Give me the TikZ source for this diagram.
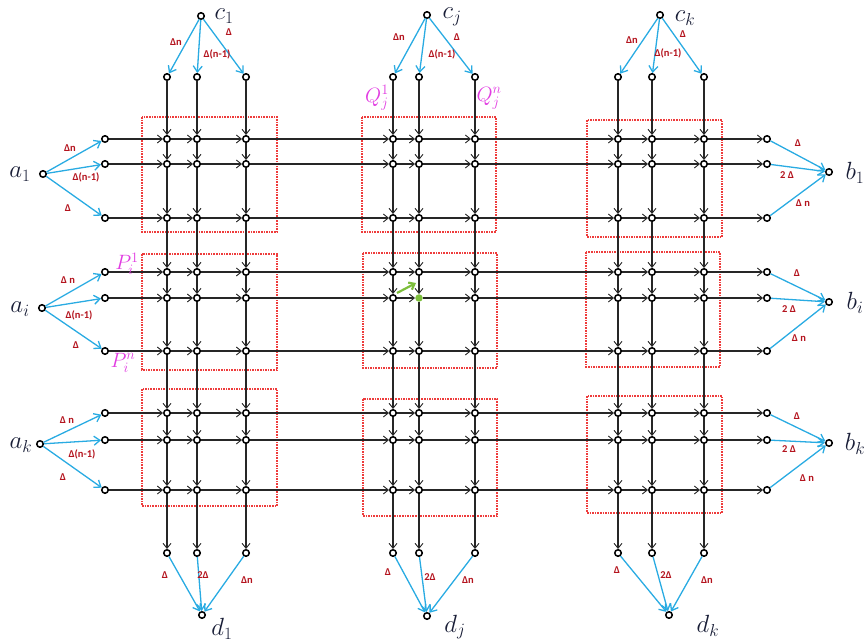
\documentclass[tikz,border=0pt]{standalone}
\usepackage{fontspec}
\newfontfamily\lblfont{Carlito}
\usetikzlibrary{arrows.meta}
\definecolor{dred}{RGB}{180,20,30}
\definecolor{skyb}{RGB}{41,171,226}
\definecolor{mag}{RGB}{225,60,225}
\definecolor{navy}{RGB}{25,30,55}
\definecolor{boxred}{RGB}{238,60,60}
\definecolor{grn}{RGB}{125,190,60}
\begin{document}
\begin{tikzpicture}[x=1pt,y=-1pt,
  pt/.style={circle,draw=black,line width=1.5pt,fill=white,inner sep=0pt,minimum size=6.5pt},
  gl/.style={draw=black!85,line width=1.1pt,-{Straight Barb[length=5pt,width=8pt,line width=0.9pt]}},
  bl/.style={draw=skyb,line width=1.3pt,-{Straight Barb[length=6pt,width=9pt]}},
  dl/.style={font=\lblfont\bfseries\fontsize{10.5}{10.5}\selectfont,text=dred,inner sep=0pt},
  ml/.style={font=\fontsize{26}{26}\selectfont,text=navy,inner sep=0pt},
  pl/.style={font=\fontsize{20}{20}\selectfont,text=mag,inner sep=0pt},
  rbox/.style={draw=boxred,dash pattern=on 1.6pt off 1pt,line width=1.2pt}]
\useasboundingbox (0,0) rectangle (867,644);
% red boxes
\draw[rbox] (142,117) rectangle (277,232);
\draw[rbox] (142,254) rectangle (277,370);
\draw[rbox] (142,389) rectangle (277,506);
\draw[rbox] (362,117) rectangle (496,232);
\draw[rbox] (363,253) rectangle (497,368);
\draw[rbox] (363,399) rectangle (497,516);
\draw[rbox] (587,120) rectangle (722,237);
\draw[rbox] (586,252) rectangle (720,367);
\draw[rbox] (587,396) rectangle (722,513);
% grid nodes
\foreach \x [count=\c] in {167,197,246,393,419,475,618,652,704}{
  \foreach \y [count=\r] in {139,164,218,272,298,351,413,440,490}{
    \ifnum\r=5 \ifnum\c=5
      \node[circle,fill=grn,inner sep=0pt,minimum size=7.5pt] (n-\r-\c) at (\x,\y) {};
    \else
      \node[pt] (n-\r-\c) at (\x,\y) {};
    \fi\else
      \node[pt] (n-\r-\c) at (\x,\y) {};
    \fi
  }
  \node[pt] (u-\c) at (\x,77) {};
  \node[pt] (v-\c) at (\x,553) {};
}
\foreach \y [count=\r] in {139,164,218,272,298,351,413,440,490}{
  \node[pt] (s-\r) at (105,\y) {};
  \node[pt] (t-\r) at (767,\y) {};
}
% grid edges
\foreach \r in {1,...,9}{
  \draw[gl] (s-\r) -- (n-\r-1);
  \foreach \c [evaluate=\c as \cn using int(\c+1)] in {1,...,8}{
    \draw[gl] (n-\r-\c) -- (n-\r-\cn);
  }
  \draw[gl] (n-\r-9) -- (t-\r);
}
\foreach \c in {1,...,9}{
  \draw[gl] (u-\c) -- (n-1-\c);
  \foreach \r [evaluate=\r as \rn using int(\r+1)] in {1,...,8}{
    \draw[gl] (n-\r-\c) -- (n-\rn-\c);
  }
  \draw[gl] (n-9-\c) -- (v-\c);
}
% green arrow
\coordinate (gs) at (397,293);
\coordinate (ge) at (416,283);
\draw[draw=grn,line width=2.2pt,-{Straight Barb[length=5pt,width=8pt]}] (gs) -- (ge);
% sources / sinks
\node[pt] (a1) at (43,174) {};
\node[pt] (ai) at (42,308) {};
\node[pt] (ak) at (40,444) {};
\node[pt] (b1) at (829,172) {};
\node[pt] (bi) at (829,302) {};
\node[pt] (bk) at (829,443) {};
\node[pt] (c1) at (201,16) {};
\node[pt] (cj) at (427,15) {};
\node[pt] (ck) at (660,15) {};
\node[pt] (d1) at (202,615) {};
\node[pt] (dj) at (427,616) {};
\node[pt] (dk) at (669,615) {};
% blue edges
\foreach \s/\i in {a1/1,ai/4,ak/7}{
  \pgfmathtruncatemacro\ia{\i+1}\pgfmathtruncatemacro\ib{\i+2}
  \draw[bl] (\s) -- (s-\i); \draw[bl] (\s) -- (s-\ia); \draw[bl] (\s) -- (s-\ib);
}
\foreach \s/\i in {b1/1,bi/4,bk/7}{
  \pgfmathtruncatemacro\ia{\i+1}\pgfmathtruncatemacro\ib{\i+2}
  \draw[bl] (t-\i) -- (\s); \draw[bl] (t-\ia) -- (\s); \draw[bl] (t-\ib) -- (\s);
}
\foreach \s/\i in {c1/1,cj/4,ck/7}{
  \pgfmathtruncatemacro\ia{\i+1}\pgfmathtruncatemacro\ib{\i+2}
  \draw[bl] (\s) -- (u-\i); \draw[bl] (\s) -- (u-\ia); \draw[bl] (\s) -- (u-\ib);
}
\foreach \s/\i in {d1/1,dj/4,dk/7}{
  \pgfmathtruncatemacro\ia{\i+1}\pgfmathtruncatemacro\ib{\i+2}
  \draw[bl] (v-\i) -- (\s); \draw[bl] (v-\ia) -- (\s); \draw[bl] (v-\ib) -- (\s);
}
% main labels
\node[ml] (la1) at (20,174) {$a_1$};
\node[ml] (lai) at (20,309) {$a_i$};
\node[ml] (lak) at (21,445) {$a_k$};
\node[ml] (lb1) at (855,173) {$b_1$};
\node[ml] (lbi) at (855,303) {$b_i$};
\node[ml] (lbk) at (855,444) {$b_k$};
\node[ml] (lc1) at (224,16) {$c_1$};
\node[ml] (lcj) at (452,17) {$c_j$};
\node[ml] (lck) at (685,18) {$c_k$};
\node[ml] (ld1) at (222,629) {$d_1$};
\node[ml] (ldj) at (455,627) {$d_j$};
\node[ml] (ldk) at (708,626) {$d_k$};
% P, Q labels
\node[pl] (p1) at (127,264) {$P_i^1$};
\node[pl] (pn) at (123,363) {$P_i^n$};
\node[pl] (q1) at (377,98) {$Q_j^1$};
\node[pl] (qn) at (489,98) {$Q_j^n$};
% delta labels top
\node[dl] (t1a) at (176,42) {Δn};
\node[dl] (t1b) at (217,54) {Δ(n-1)};
\node[dl] (t1c) at (229,32) {Δ};
\node[dl] (t2a) at (399,37) {Δn};
\node[dl] (t2b) at (442,54) {Δ(n-1)};
\node[dl] (t2c) at (457,37) {Δ};
\node[dl] (t3a) at (632,40) {Δn};
\node[dl] (t3b) at (668,53) {Δ(n-1)};
\node[dl] (t3c) at (683,34) {Δ};
% left
\node[dl] (l1a) at (70,148) {Δn};
\node[dl] (l1b) at (86,177) {Δ(n-1)};
\node[dl] (l1c) at (68,208) {Δ};
\node[dl] (l2a) at (68,280) {Δ n};
\node[dl] (l2b) at (79,315) {Δ(n-1)};
\node[dl] (l2c) at (76,345) {Δ};
\node[dl] (l3a) at (67,420) {Δ n};
\node[dl] (l3b) at (82,454) {Δ(n-1)};
\node[dl] (l3c) at (63,477) {Δ};
% right
\node[dl] (r1a) at (798,143) {Δ};
\node[dl] (r1b) at (787,175) {2 Δ};
\node[dl] (r1c) at (803,203) {Δ n};
\node[dl] (r2a) at (797,273) {Δ};
\node[dl] (r2b) at (789,309) {2 Δ};
\node[dl] (r2c) at (799,338) {Δ n};
\node[dl] (r3a) at (797,416) {Δ};
\node[dl] (r3b) at (789,449) {2 Δ};
\node[dl] (r3c) at (807,478) {Δ n};
% bottom
\node[dl] (b1a) at (165,575) {Δ};
\node[dl] (b1b) at (203,575) {2Δ};
\node[dl] (b1c) at (247,580) {Δn};
\node[dl] (b2a) at (388,572) {Δ};
\node[dl] (b2b) at (430,577) {2Δ};
\node[dl] (b2c) at (468,580) {Δn};
\node[dl] (b3a) at (617,570) {Δ};
\node[dl] (b3b) at (666,575) {2Δ};
\node[dl] (b3c) at (707,580) {Δn};
\end{tikzpicture}
\end{document}
